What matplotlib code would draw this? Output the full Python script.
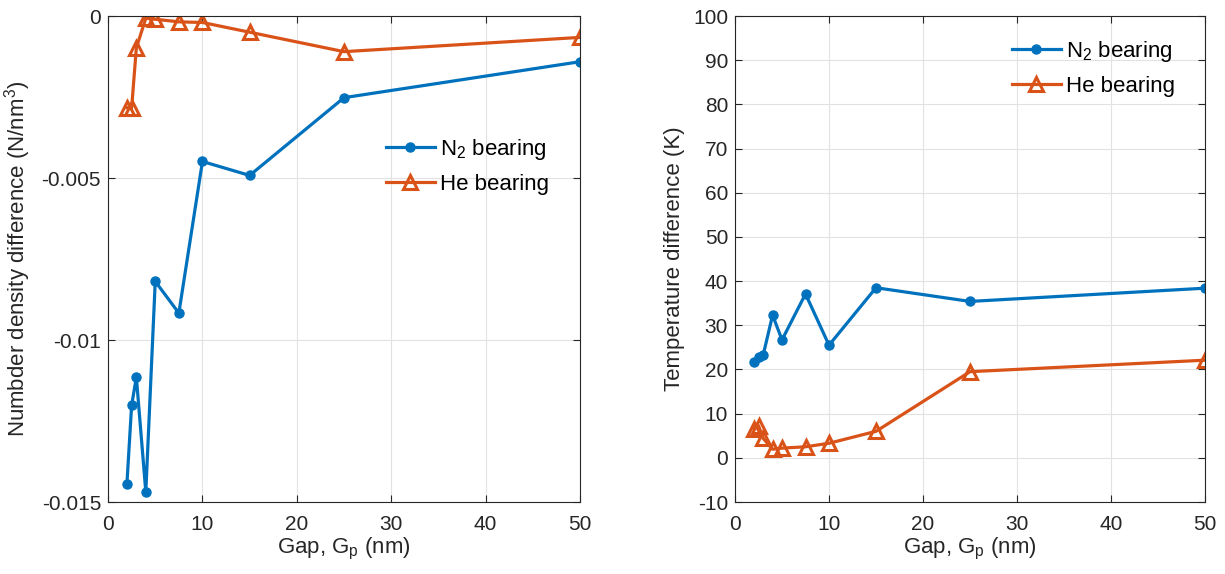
import matplotlib
matplotlib.use("Agg")
import matplotlib.pyplot as plt

plt.rcParams['font.family'] = ['Liberation Sans', 'DejaVu Sans']
plt.rcParams['mathtext.default'] = 'regular'
plt.rcParams['axes.unicode_minus'] = False

# Data
gap = [2, 2.5, 3, 4, 5, 7.5, 10, 15, 25, 50]
n2_density = [-0.01443, -0.01201, -0.01115, -0.01469, -0.00819, -0.00917, -0.00449, -0.00492, -0.00252, -0.00141]
he_density = [-0.00283, -0.00283, -0.00098, -0.00007, -0.00010, -0.00018, -0.00020, -0.00050, -0.00110, -0.00066]
n2_temp = [21.8, 22.8, 23.3, 32.3, 26.7, 37.1, 25.5, 38.5, 35.4, 38.4]
he_temp = [6.6, 7.3, 4.4, 1.95, 2.2, 2.5, 3.3, 6.0, 19.5, 22.1]

xticks = [0, 10, 20, 30, 40, 50]
yticks_left = [-0.015, -0.01, -0.005, 0]
yticks_left_labels = ['-0.015', '-0.01', '-0.005', '0']
yticks_right = list(range(-10, 101, 10))

labels = ['N$_2$ bearing', 'He bearing']
blue = '#0072BD'
orange = '#D95319'
dark = '#262626'

fig = plt.figure(figsize=(12.25, 5.74), dpi=100)
ax1 = fig.add_axes([0.0882, 0.1254, 0.3853, 0.8467])
ax2 = fig.add_axes([0.6, 0.1254, 0.3837, 0.8467])

def style(ax):
    ax.grid(True, color='#e2e2e2', linewidth=0.8)
    ax.set_axisbelow(True)
    ax.tick_params(direction='in', top=True, right=True, length=5, width=0.8,
                   labelsize=15, colors=dark)
    ax.tick_params(axis='x', pad=9)
    ax.tick_params(axis='y', pad=5)
    for s in ax.spines.values():
        s.set_color(dark)
        s.set_linewidth(0.8)

def plot_pair(ax, ya, yb):
    ax.plot(gap, ya, color=blue, lw=2.3, marker='o', ms=6.5, mfc=blue, mec=blue, label=labels[0])
    ax.plot(gap, yb, color=orange, lw=2.3, marker='^', ms=10.5, mfc='none', mec=orange, mew=2.2, label=labels[1])

leg_kw = dict(loc='upper left', frameon=False, fontsize=16, borderpad=0,
              handlelength=2.2, handletextpad=0.25, labelspacing=0.55)

plot_pair(ax1, n2_density, he_density)
ax1.set_xlim(0, 50)
ax1.set_ylim(-0.015, 0)
ax1.set_xticks(xticks)
ax1.set_yticks(yticks_left)
ax1.set_yticklabels(yticks_left_labels)
ax1.set_xlabel('Gap, G$_p$ (nm)', fontsize=16, color=dark, labelpad=2)
ax1.set_ylabel('Numbder density difference (N/nm$^3$)', fontsize=16, color=dark, labelpad=6)
style(ax1)
ax1.legend(bbox_to_anchor=(0.565, 0.774), **leg_kw)

plot_pair(ax2, n2_temp, he_temp)
ax2.set_xlim(0, 50)
ax2.set_ylim(-10, 100)
ax2.set_xticks(xticks)
ax2.set_yticks(yticks_right)
ax2.set_xlabel('Gap, G$_p$ (nm)', fontsize=16, color=dark, labelpad=2)
ax2.set_ylabel('Temperature difference (K)', fontsize=16, color=dark, labelpad=6)
style(ax2)
ax2.legend(bbox_to_anchor=(0.565, 0.976), **leg_kw)

fig.savefig('out.png', dpi=100, facecolor='white')
